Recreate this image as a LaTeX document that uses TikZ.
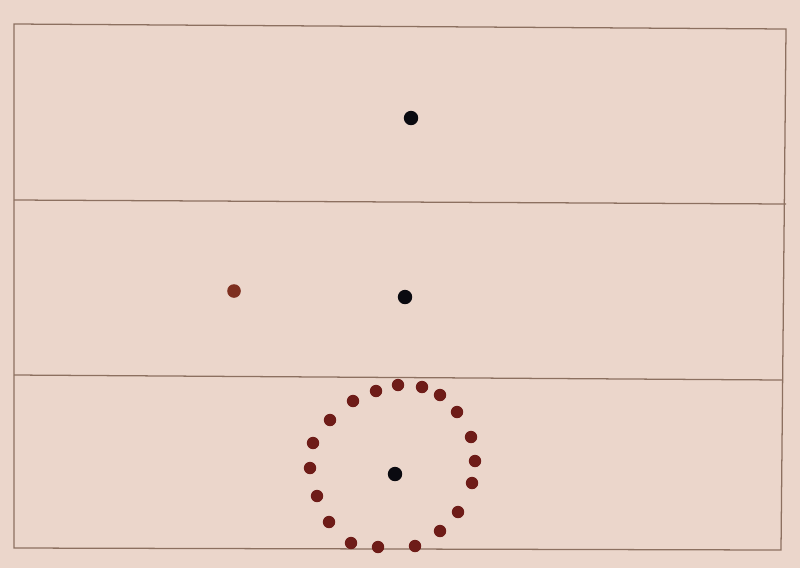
\documentclass[tikz,border=0pt]{standalone}
\usepackage{xcolor}
\usepackage{tikz}
\usetikzlibrary{positioning,calc}
\definecolor{paper}{HTML}{EBD6CB}
\definecolor{pencil}{HTML}{8C7060}
\definecolor{inkBrown}{HTML}{6E1C18}
\definecolor{inkRust}{HTML}{7E3020}
\definecolor{inkBlack}{HTML}{0A0A10}
\tikzset{
  frameline/.style={draw=pencil, line width=0.9pt},
  blackdot/.style={circle, fill=inkBlack, inner sep=0pt, minimum size=3.6mm},
  browndot/.style={circle, fill=inkBrown, inner sep=0pt, minimum size=3.1mm}
}

\begin{document}
\begin{tikzpicture}[x=0.025cm, y=-0.025cm]
  % paper
  \fill[paper] (0,0) rectangle (800,568);
  \useasboundingbox (0,0) rectangle (800,568);
  % three stacked panels
  \coordinate (tl) at (14,24);
  \coordinate (tr) at (786,29);
  \coordinate (br) at (781,550);
  \coordinate (bl) at (14,548);
  \draw[frameline] (tl) -- (tr) -- (br) -- (bl) -- cycle;
  \coordinate (s1l) at (14,200);
  \coordinate (s1r) at (786,204);
  \coordinate (s2l) at (14,375);
  \coordinate (s2r) at (782,380);
  \draw[frameline] (s1l) -- (s1r);
  \draw[frameline] (s2l) -- (s2r);
  % dots
  \node[blackdot] (top) at (411,118) {};
  \node[blackdot] (mid) at (405,297) {};
  \node[browndot, fill=inkRust, minimum size=3.4mm] (side) at (234,291) {};
  \node[blackdot] (ctr) at (395,474) {};
  % ring of brown dots
  \foreach \px/\py [count=\i] in {398/385, 422/387, 440/395, 457/412, 471/437,
      475/461, 472/483, 458/512, 440/531, 415/546, 378/547, 351/543,
      329/522, 317/496, 310/468, 313/443, 330/420, 353/401, 376/391}{
    \node[browndot] (ring\i) at (\px,\py) {};
  }
\end{tikzpicture}
\end{document}
